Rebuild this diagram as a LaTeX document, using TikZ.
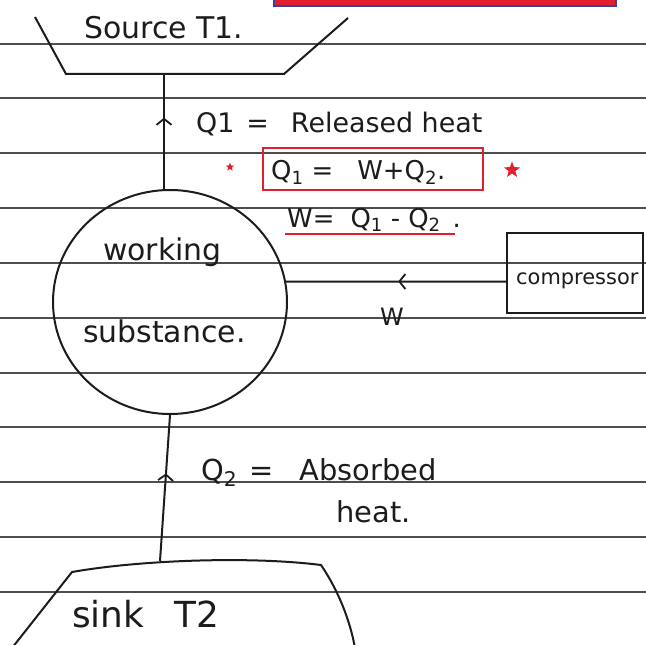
\documentclass[tikz,border=0pt]{standalone}
\usepackage{fontspec}
\setmainfont{DejaVu Sans}
\usetikzlibrary{shapes.geometric,arrows.meta,decorations.markings}
\definecolor{ink}{HTML}{1C1C1C}
\definecolor{rule}{HTML}{4E4E4E}
\definecolor{redink}{HTML}{E0202E}
\definecolor{bluebar}{HTML}{3C3F9E}
\begin{document}
\begin{tikzpicture}[x=1bp,y=-1bp,
  inkline/.style={draw=ink,line width=2bp},
  ruled/.style={draw=rule,line width=2bp},
  hand/.style={text=ink,inner sep=0pt,anchor=base west,font=\fontsize{#1}{#1}\selectfont},
  midbarb/.style={decoration={markings,mark=at position #1 with {\arrow{Straight Barb[length=6bp,width=15bp,line width=1.8bp]}}},postaction={decorate}},
  redstar/.style={star,star points=5,star point ratio=2.4,fill=redink,draw=none,inner sep=0pt,minimum size=#1}]
\useasboundingbox (0,0) rectangle (646,645);
\clip (0,0) rectangle (646,645);
\fill[white] (0,0) rectangle (646,645);
% ruled paper
\foreach \yy in {44,98.5,153,208,262.5,317.5,372.5,427,482,537,591.5}
  \draw[ruled] (0,\yy) -- (646,\yy);
% red bar at top
\draw[draw=bluebar,fill=redink,line width=2bp] (274,-4) rectangle (616,6);
% source
\draw[inkline] (35,17) -- (66,74) -- (284,74) -- (348,18);
\coordinate (srcb) at (164,74);
\node[hand=30] (srclbl) at (84,39) {Source T1.};
% working substance
\node[draw=ink,line width=2bp,ellipse,minimum width=234bp,minimum height=224bp,inner sep=0pt] (ws) at (170,302) {};
\node[hand=30] (wk) at (103,260) {working};
\node[hand=30] (sb) at (83,342) {substance.};
% Q1 connector
\draw[inkline,midbarb=0.62] (ws.north -| srcb) -- (srcb);
\node[hand=27] (q1lbl) at (196,133) {Q1\hspace{12bp}=\hspace{22bp}Released heat};
% equations
\node[redstar=9bp] (st1) at (230,167) {};
\node[draw=redink,line width=2.2bp,minimum width=220bp,minimum height=42bp,inner sep=0pt] (eqbox) at (373,169) {};
\node[hand=26] (eq1) at (271,180) {Q\textsubscript{1}\hspace{8bp}=\hspace{24bp}W+Q\textsubscript{2}.};
\node[redstar=17bp] (st2) at (512,170) {};
\node[hand=26] (eq2) at (287,227) {W=\hspace{16bp}Q\textsubscript{1}\hspace{8bp}-\hspace{8bp}Q\textsubscript{2}\hspace{12bp}.};
\draw[redink,line width=2.2bp] (285,234) -- (455,234);
% compressor
\node[draw=ink,line width=2bp,minimum width=136bp,minimum height=80bp,inner sep=0pt] (comp) at (575,272.5) {};
\node[hand=21] (complbl) at (516,284) {compressor};
\draw[inkline,midbarb=0.49] ([yshift=-9bp]comp.west) -- (ws.10);
\node[hand=24] (wlbl) at (380,325) {W};
% sink
\draw[inkline] (12,648) -- (72,572) .. controls (140,560) and (250,556) .. (321,565) .. controls (338,590) and (350,620) .. (355,648);
\coordinate (sinkt) at (160,561);
\node[hand=36] (sinklbl) at (72,627) {sink\hspace{30bp}T2};
% Q2 connector
\draw[inkline,midbarb=0.6] (sinkt) -- (ws.south);
\node[hand=29] (q2lbl) at (201,480) {Q\textsubscript{2}\hspace{12bp}=\hspace{26bp}Absorbed};
\node[hand=29] (heatlbl) at (336,522) {heat.};
\end{tikzpicture}
\end{document}
